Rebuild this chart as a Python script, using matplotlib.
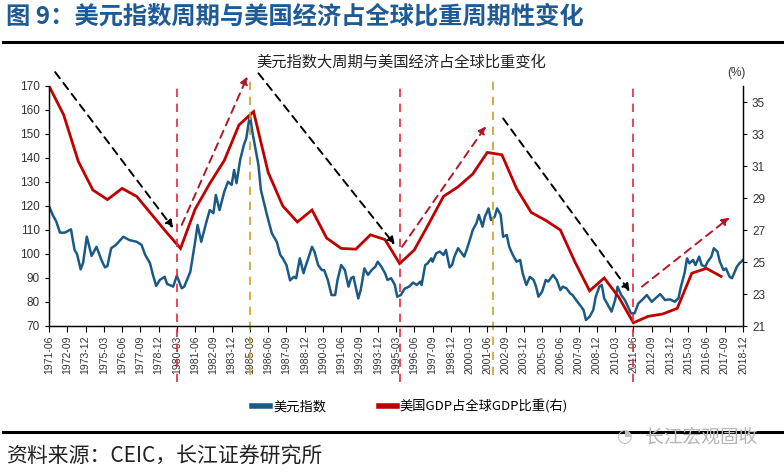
import pandas as pd
import matplotlib
matplotlib.use("Agg")
import matplotlib.pyplot as plt
import matplotlib.dates as mdates
from matplotlib.lines import Line2D

plt.rcParams['font.family'] = ['Liberation Sans Narrow', 'Liberation Sans', 'Noto Sans CJK SC']
CJK = ['Noto Sans CJK SC', 'DejaVu Sans']

# US dollar index (left axis)
usd_dates = [
    "1971-06", "1971-09", "1971-12", "1972-03", "1972-07", "1972-12", "1973-03", "1973-05",
    "1973-08", "1973-10", "1974-01", "1974-05", "1974-09", "1975-01", "1975-04", "1975-06",
    "1975-09", "1976-01", "1976-07", "1976-12", "1977-06", "1977-10", "1978-01", "1978-05",
    "1978-07", "1978-10", "1979-01", "1979-05", "1979-07", "1979-09", "1979-12", "1980-03",
    "1980-07", "1980-09", "1981-02", "1981-06", "1981-08", "1981-11", "1982-03", "1982-06",
    "1982-09", "1982-11", "1983-02", "1983-06", "1983-09", "1983-12", "1984-02", "1984-04",
    "1984-07", "1984-10", "1984-12", "1985-03", "1985-05", "1985-07", "1985-10", "1985-12",
    "1986-05", "1986-09", "1987-01", "1987-04", "1987-06", "1987-09", "1987-12", "1988-03",
    "1988-05", "1988-08", "1988-11", "1989-01", "1989-03", "1989-06", "1989-08", "1989-11",
    "1990-02", "1990-04", "1990-07", "1990-10", "1991-01", "1991-03", "1991-06", "1991-09",
    "1991-12", "1992-02", "1992-04", "1992-08", "1992-10", "1993-01", "1993-04", "1993-07",
    "1993-10", "1993-12", "1994-03", "1994-06", "1994-08", "1994-11", "1995-02", "1995-04",
    "1995-07", "1995-10", "1996-02", "1996-05", "1996-08", "1996-11", "1996-12", "1997-03",
    "1997-05", "1997-08", "1997-09", "1997-12", "1998-03", "1998-06", "1998-08", "1998-11",
    "1999-01", "1999-03", "1999-06", "1999-09", "1999-11", "2000-01", "2000-04", "2000-06",
    "2000-09", "2000-11", "2001-02", "2001-04", "2001-07", "2001-09", "2001-12", "2002-02",
    "2002-05", "2002-07", "2002-10", "2002-12", "2003-03", "2003-06", "2003-09", "2003-11",
    "2004-02", "2004-05", "2004-08", "2004-10", "2004-12", "2005-03", "2005-06", "2005-08",
    "2005-12", "2006-03", "2006-06", "2006-08", "2006-11", "2007-02", "2007-04", "2007-07",
    "2007-10", "2008-01", "2008-03", "2008-06", "2008-09", "2008-11", "2009-02", "2009-04",
    "2009-06", "2009-09", "2009-12", "2010-03", "2010-05", "2010-08", "2010-11", "2011-02",
    "2011-04", "2011-07", "2011-10", "2012-01", "2012-05", "2012-09", "2012-12", "2013-04",
    "2013-08", "2013-12", "2014-04", "2014-07", "2014-09", "2014-12", "2015-02", "2015-04",
    "2015-07", "2015-09", "2015-12", "2016-02", "2016-05", "2016-07", "2016-10", "2016-12",
    "2017-03", "2017-05", "2017-08", "2017-10", "2018-01", "2018-03", "2018-07", "2018-09",
    "2018-12",
]
usd_index = [
    120.0, 116.3, 113.5, 108.9, 108.9, 110.3, 101.7, 100.0,
    93.6, 96.4, 107.2, 99.2, 103.0, 97.5, 94.4, 95.0,
    102.4, 103.8, 107.2, 105.8, 105.1, 103.8, 99.6, 96.1,
    92.0, 86.7, 89.2, 90.5, 87.5, 87.1, 86.4, 91.0,
    85.7, 86.4, 92.6, 105.1, 112.1, 105.1, 112.8, 118.3,
    117.0, 124.6, 118.3, 126.0, 130.1, 128.8, 135.0, 129.5,
    139.2, 145.4, 148.2, 158.0, 151.0, 145.4, 137.1, 126.7,
    116.3, 108.6, 105.1, 99.6, 98.2, 95.4, 89.0, 90.5,
    89.9, 98.2, 92.0, 95.4, 98.2, 103.0, 101.0, 95.4,
    93.3, 93.3, 89.2, 82.9, 82.9, 89.2, 95.4, 93.3,
    86.4, 89.9, 90.5, 81.5, 85.0, 94.0, 91.3, 93.3,
    94.7, 96.8, 94.7, 92.0, 89.2, 89.9, 87.1, 82.2,
    82.9, 85.5, 86.5, 88.1, 87.1, 88.5, 87.1, 95.4,
    96.1, 98.2, 96.8, 100.3, 101.0, 99.6, 101.7, 94.4,
    95.4, 98.9, 102.4, 100.3, 98.9, 101.7, 106.5, 110.0,
    112.8, 116.3, 111.4, 115.5, 119.0, 114.2, 115.5, 119.0,
    116.3, 107.2, 107.9, 103.0, 99.6, 96.8, 97.5, 92.0,
    87.1, 90.5, 89.2, 86.4, 82.2, 84.3, 89.2, 88.5,
    91.3, 89.2, 85.0, 86.4, 85.7, 83.6, 82.9, 80.8,
    78.8, 76.7, 72.5, 73.9, 76.7, 82.2, 86.4, 87.1,
    81.5, 78.8, 76.0, 80.8, 86.4, 82.9, 80.8, 77.4,
    75.3, 75.3, 79.4, 80.8, 82.9, 80.1, 81.5, 83.3,
    80.8, 81.1, 80.1, 81.5, 86.4, 92.0, 98.2, 96.1,
    97.5, 95.4, 98.9, 95.4, 94.7, 96.8, 98.9, 102.4,
    101.0, 96.8, 93.3, 94.0, 90.5, 89.9, 94.7, 96.1,
    97.5,
]

# US share of world GDP, % (right axis), annual
gdp_years = list(range(1971, 2018))
gdp_share = [
    36.0, 34.2, 31.3, 29.5, 28.9, 29.6, 29.1, 28.0, 26.9, 25.85,
    28.3, 29.9, 31.35, 33.56, 34.4, 30.6, 28.5, 27.5, 28.25, 26.5,
    25.85, 25.8, 26.7, 26.4, 24.9, 25.75, 27.4, 29.1, 29.7, 30.5,
    31.85, 31.7, 29.6, 28.1, 27.6, 27.0, 25.0, 23.2, 24.0, 22.8,
    21.2, 21.6, 21.75, 22.1, 24.3, 24.6, 24.1,
]

tick_labels = [
    "1971-06", "1972-09", "1973-12", "1975-03", "1976-06", "1977-09", "1978-12", "1980-03",
    "1981-06", "1982-09", "1983-12", "1985-03", "1986-06", "1987-09", "1988-12", "1990-03",
    "1991-06", "1992-09", "1993-12", "1995-03", "1996-06", "1997-09", "1998-12", "2000-03",
    "2001-06", "2002-09", "2003-12", "2005-03", "2006-06", "2007-09", "2008-12", "2010-03",
    "2011-06", "2012-09", "2013-12", "2015-03", "2016-06", "2017-09", "2018-12",
]

# cycle markers
trough_dates = ["1980-03", "1995-06", "2011-06"]
peak_dates = ["1985-03", "2001-11"]

# trend arrows: (start date, start value, end date, end value, colour) on the left scale
trend_arrows = [
    ("1971-11", 175.8, "1979-12", 110.8, "black"),
    ("1980-07", 112.1, "1985-01", 174.0, "#b0182a"),
    ("1985-10", 175.3, "1995-02", 103.8, "black"),
    ("1995-08", 103.0, "2001-05", 153.3, "#b0182a"),
    ("2002-07", 156.5, "2011-03", 84.3, "black"),
    ("2012-01", 86.4, "2018-01", 115.2, "#b0182a"),
]

BLUE = "#1b5a84"
RED = "#c00000"

fig = plt.figure(figsize=(7.84, 4.74), dpi=100)
W, H = 784, 474
ax = fig.add_axes([49 / W, 1 - 326 / H, (743 - 49) / W, 240 / H])
ax2 = ax.twinx()

x_usd = pd.to_datetime(usd_dates)
x_gdp = pd.to_datetime([f"{y}-06" for y in gdp_years])

ax.plot(x_usd, usd_index, color=BLUE, lw=1.8, solid_joinstyle="round")
ax2.plot(x_gdp, gdp_share, color=RED, lw=2.0, solid_joinstyle="miter")

ax.set_ylim(70, 170)
ax.set_yticks(range(70, 171, 10))
ax2.set_ylim(21, 36)
ax2.set_yticks(range(21, 36, 2))
ax.set_xlim(pd.Timestamp("1971-06"), pd.Timestamp("2018-12"))

ax.set_xticks(pd.to_datetime(tick_labels))
ax.set_xticklabels(tick_labels, rotation=90, fontsize=7.5, color="#333333")
ax.tick_params(axis="x", direction="out", length=4, pad=3, width=0.8)
ax.tick_params(axis="y", direction="out", length=3, labelsize=8.5, labelcolor="#333333", width=0.8)
ax2.tick_params(axis="y", direction="out", length=3, labelsize=8.5, labelcolor="#333333", width=0.8)

for a in (ax, ax2):
    a.spines["top"].set_visible(False)
    for s in ("left", "right", "bottom"):
        a.spines[s].set_linewidth(0.9)

for d in trough_dates:
    ax2.axvline(pd.Timestamp(d), ymin=-0.233, ymax=1.004, color="#e8283a", lw=1.2,
                ls=(0, (5, 4)), clip_on=False)
for d in peak_dates:
    ax2.axvline(pd.Timestamp(d), ymin=-0.204, ymax=1.025, color="#c9a227", lw=1.2,
                ls=(0, (5, 4)), clip_on=False)

for d0, v0, d1, v1, col in trend_arrows:
    ax2.annotate("", xy=(mdates.date2num(pd.Timestamp(d1)), v1),
                 xytext=(mdates.date2num(pd.Timestamp(d0)), v0),
                 xycoords=ax.transData, textcoords=ax.transData,
                 annotation_clip=False,
                 arrowprops=dict(arrowstyle="-|>", color=col, lw=1.4, ls=(0, (4, 3)),
                                 mutation_scale=11, shrinkA=0, shrinkB=0))

# titles and texts
fig.text(6 / W, 1 - 17 / H, "图 9：美元指数周期与美国经济占全球比重周期性变化", family=CJK,
         fontsize=17.5, color="#1d5a96", weight="bold", va="center")
fig.add_artist(Line2D([3 / W, 1], [1 - 42 / H] * 2, color="black", lw=2.2))
fig.text(401 / W, 1 - 62 / H, "美元指数大周期与美国经济占全球比重变化", family=CJK,
         fontsize=11, color="#222222", ha="center", va="center")
fig.text(736 / W, 1 - 73 / H, "(%)", fontsize=8.5, color="#333333", ha="center", va="center")

handles = [Line2D([], [], color=BLUE, lw=4), Line2D([], [], color=RED, lw=4)]
fig.legend(handles, ["美元指数", "美国GDP占全球GDP比重(右)"], loc="center",
           bbox_to_anchor=(410 / W, 1 - 407 / H), ncol=2, frameon=False,
           prop={"family": CJK, "size": 9.5}, handlelength=1.4, handletextpad=0.2,
           columnspacing=4.0)

fig.add_artist(Line2D([3 / W, 1], [1 - 432 / H] * 2, color="black", lw=2.2))
fig.text(6 / W, 1 - 457 / H, "资料来源：CEIC，长江证券研究所", family=CJK,
         fontsize=15, color="#222222", va="center")
fig.text(624 / W, 1 - 437 / H, "◔", fontsize=13, color="#c0c0c0", ha="center", va="center",
         family=['DejaVu Sans'])
fig.text(758 / W, 1 - 437 / H, "长江宏观固收", family=CJK, fontsize=13.5,
         color="#b5b5b5", ha="right", va="center")

fig.savefig("out.png", dpi=100)
